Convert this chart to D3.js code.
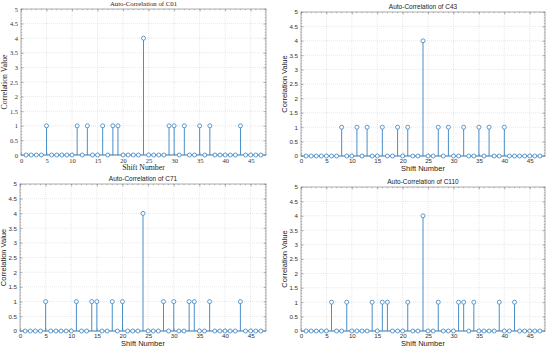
<!DOCTYPE html>
<html>
<head>
<meta charset="utf-8">
<script src="https://cdn.jsdelivr.net/npm/d3@7"></script>
<style>
  body { margin: 0; background: #fff; }
  .grid line { stroke: #d8d8d8; stroke-dasharray: 1,1; stroke-width: 0.6; }
  .axis path, .axis line { stroke: #8a8a8a; stroke-width: 0.6; }
  .axis text { fill: #333; }
</style>
</head>
<body>
<script>
const titles = ["Auto-Correlation of C01", "Auto-Correlation of C43", "Auto-Correlation of C71", "Auto-Correlation of C110"];
const xTicks = [0, 5, 10, 15, 20, 25, 30, 35, 40, 45];
const yTicks = [0, 0.5, 1, 1.5, 2, 2.5, 3, 3.5, 4, 4.5, 5];

// correlation values for shifts 1..47
const c01 = [0,0,0,0,1,0,0,0,0,0, 1,0,1,0,0,1,0,1,1,0, 0,0,0,4,0,0,0,0,1,1, 0,1,0,0,1,0,1,0,0,0, 0,0,1,0,0,0,0];
const c43 = [0,0,0,0,0,0,0,1,0,0, 1,0,1,0,0,1,0,0,1,0, 1,0,0,4,0,0,1,0,1,0, 0,1,0,0,1,0,1,0,0,1, 0,0,0,0,0,0,0];
const c71 = [0,0,0,0,1,0,0,0,0,0, 1,0,0,1,1,0,0,1,0,1, 0,0,0,4,0,0,0,1,0,1, 0,0,1,1,0,0,1,0,0,0, 0,0,1,0,0,0,0];
const c110 = [0,0,0,0,0,1,0,0,1,0, 0,0,0,1,0,1,1,0,0,0, 1,0,0,4,0,0,1,0,0,0, 1,1,0,1,0,0,0,0,1,0, 0,1,0,0,0,0,0];

const series = [c01, c43, c71, c110];

const panels = [
  { l: 21, t: 9, r: 266, b: 155, font: "Liberation Serif", fs: 6.5 },
  { l: 301, t: 12, r: 545, b: 156, font: "Liberation Sans", fs: 6.2 },
  { l: 20, t: 184, r: 266, b: 331, font: "Liberation Sans", fs: 6.2 },
  { l: 301, t: 187, r: 545, b: 331, font: "Liberation Sans", fs: 6.2 }
];

const color = "#4a8fc9";

const svg = d3.select("body").append("svg")
  .attr("width", 550)
  .attr("height", 350);

panels.forEach((p, k) => {
  const vals = series[k];
  const x = d3.scaleLinear().domain([0, 48]).range([p.l, p.r]);
  const y = d3.scaleLinear().domain([0, 5]).range([p.b, p.t]);
  const g = svg.append("g").style("font-family", p.font);

  // grid
  const grid = g.append("g").classed("grid", true);
  grid.selectAll(".gx").data(xTicks.slice(1)).enter().append("line")
    .attr("x1", d => x(d)).attr("x2", d => x(d))
    .attr("y1", p.t).attr("y2", p.b);
  grid.selectAll(".gy").data(yTicks.slice(1, -1)).enter().append("line")
    .attr("x1", p.l).attr("x2", p.r)
    .attr("y1", d => y(d)).attr("y2", d => y(d));

  const minorX = d3.range(0, 49, 1);
  const minorY = d3.range(0, 5.01, 0.1);

  // axes (box with inward ticks)
  const axes = [
    [d3.axisBottom(x).tickValues(xTicks).tickSize(-2.5).tickPadding(3), `translate(0,${p.b})`, true],
    [d3.axisTop(x).tickValues(xTicks).tickSize(-2.5), `translate(0,${p.t})`, false],
    [d3.axisLeft(y).tickValues(yTicks).tickSize(-2.5).tickPadding(3), `translate(${p.l},0)`, true],
    [d3.axisRight(y).tickValues(yTicks).tickSize(-2.5), `translate(${p.r},0)`, false]
  ];
  axes.forEach(([ax, tr, labels]) => {
    const a = g.append("g").classed("axis", true).attr("transform", tr)
      .call(ax.tickFormat(labels ? d => d : ""));
    a.select(".domain").attr("d", null);
    a.selectAll("text").style("font-size", p.fs + "px").style("font-family", p.font);
  });
  // minor ticks
  const minor = g.append("g").classed("axis", true);
  minor.selectAll(".mxb").data(minorX).enter().append("line")
    .attr("x1", d => x(d)).attr("x2", d => x(d)).attr("y1", p.b).attr("y2", p.b - 1.2);
  minor.selectAll(".mxt").data(minorX).enter().append("line")
    .attr("x1", d => x(d)).attr("x2", d => x(d)).attr("y1", p.t).attr("y2", p.t + 1.2);
  minor.selectAll(".myl").data(minorY).enter().append("line")
    .attr("y1", d => y(d)).attr("y2", d => y(d)).attr("x1", p.l).attr("x2", p.l + 1.2);
  minor.selectAll(".myr").data(minorY).enter().append("line")
    .attr("y1", d => y(d)).attr("y2", d => y(d)).attr("x1", p.r).attr("x2", p.r - 1.2);

  g.append("rect")
    .attr("x", p.l).attr("y", p.t)
    .attr("width", p.r - p.l).attr("height", p.b - p.t)
    .attr("fill", "none").attr("stroke", "#8a8a8a").attr("stroke-width", 0.7);

  // stems
  const stems = g.append("g");
  stems.append("line")
    .attr("x1", p.l).attr("x2", p.r)
    .attr("y1", y(0)).attr("y2", y(0))
    .attr("stroke", color).attr("stroke-width", 0.8);
  stems.selectAll(".stem").data(vals).enter().append("line")
    .attr("x1", (d, i) => x(i + 1)).attr("x2", (d, i) => x(i + 1))
    .attr("y1", y(0)).attr("y2", d => y(d))
    .attr("stroke", color).attr("stroke-width", 1);
  stems.selectAll(".mk").data(vals).enter().append("circle")
    .attr("cx", (d, i) => x(i + 1)).attr("cy", d => y(d))
    .attr("r", 2)
    .attr("fill", "#fff").attr("stroke", color).attr("stroke-width", 0.9);

  // labels
  const cx = (p.l + p.r) / 2;
  g.append("text").attr("x", cx).attr("y", p.t - 3)
    .attr("text-anchor", "middle").style("font-size", (p.fs + 0.3) + "px").attr("fill", "#222")
    .text(titles[k]);
  g.append("text").attr("x", cx).attr("y", p.b + 15)
    .attr("text-anchor", "middle").style("font-size", (p.fs + 1.3) + "px").attr("fill", "#222")
    .text("Shift Number");
  g.append("text")
    .attr("transform", `translate(${p.l - 14},${(p.t + p.b) / 2}) rotate(-90)`)
    .attr("text-anchor", "middle").style("font-size", (p.fs + 1.3) + "px").attr("fill", "#222")
    .text("Correlation Value");
});
</script>
</body>
</html>
